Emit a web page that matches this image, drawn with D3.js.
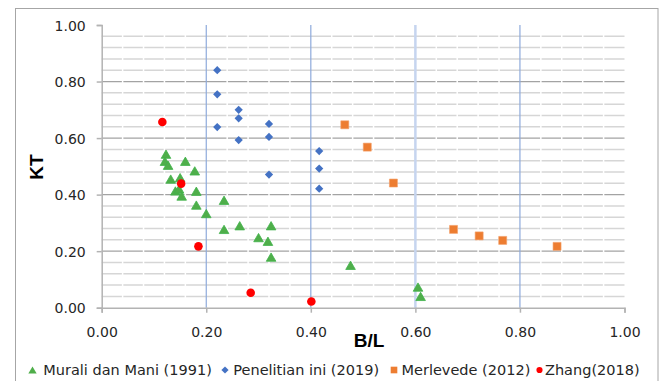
<!DOCTYPE html>
<html>
<head>
<meta charset="utf-8">
<script src="https://cdn.jsdelivr.net/npm/d3@7"></script>
<style>
  html, body { margin: 0; padding: 0; background: #fff; }
  svg { display: block; }
</style>
</head>
<body>
<svg id="chart" width="659" height="381"></svg>
<script>
// Series: [B/L, KT] pairs
const murali = [
  [0.123, 0.543], [0.121, 0.518], [0.127, 0.504], [0.160, 0.518],
  [0.178, 0.484], [0.132, 0.455], [0.150, 0.460], [0.141, 0.413],
  [0.148, 0.420], [0.153, 0.395], [0.181, 0.412], [0.181, 0.363],
  [0.200, 0.333], [0.234, 0.380], [0.234, 0.277], [0.264, 0.290],
  [0.324, 0.290], [0.300, 0.248], [0.318, 0.235], [0.324, 0.179],
  [0.476, 0.150], [0.605, 0.073], [0.610, 0.040]
];
const penelitian = [
  [0.221, 0.840], [0.221, 0.755], [0.221, 0.639],
  [0.262, 0.700], [0.262, 0.670], [0.262, 0.593],
  [0.320, 0.650], [0.320, 0.604], [0.320, 0.471],
  [0.416, 0.554], [0.416, 0.492], [0.416, 0.421]
];
const merlevede = [
  [0.465, 0.647], [0.508, 0.568], [0.558, 0.441],
  [0.673, 0.277], [0.722, 0.254], [0.767, 0.238], [0.871, 0.217]
];
const zhang = [
  [0.116, 0.657], [0.152, 0.439], [0.185, 0.217],
  [0.285, 0.053], [0.401, 0.022]
];
const seriesNames = ["Murali dan Mani (1991)", "Penelitian ini (2019)", "Merlevede (2012)", "Zhang(2018)"];
const xTicks = [0, 0.2, 0.4, 0.6, 0.8, 1.0];
const yTicks = [0, 0.2, 0.4, 0.6, 0.8, 1.0];
const xTitle = "B/L";
const yTitle = "KT";

const svg = d3.select("#chart");
const x = d3.scaleLinear().domain([0, 1]).range([101.7, 624.5]);
const y = d3.scaleLinear().domain([0, 1]).range([307.7, 25]);
const fmt = d3.format(".2f");

// outer frame
svg.append("rect")
  .attr("x", 15.5).attr("y", 8.5)
  .attr("width", 642.5).attr("height", 400)
  .attr("fill", "none").attr("stroke", "#a6a6a6").attr("stroke-width", 1);

const grid = svg.append("g");
// minor horizontal gridlines every 0.04
const yMinor = d3.range(1, 25).map(i => i * 0.04).filter(v => Math.abs(v / 0.2 - Math.round(v / 0.2)) > 1e-6);
grid.selectAll(".hminor").data(yMinor).join("line")
  .attr("x1", x(0)).attr("x2", x(1))
  .attr("y1", d => y(d)).attr("y2", d => y(d))
  .attr("stroke", "#d6d6d6").attr("stroke-width", 1.5);
// major horizontal gridlines
grid.selectAll(".hmajor").data(yTicks.filter(v => v > 0 && v < 1)).join("line")
  .attr("x1", x(0)).attr("x2", x(1))
  .attr("y1", d => y(d)).attr("y2", d => y(d))
  .attr("stroke", "#a3a3a3").attr("stroke-width", 1.2);
// minor vertical gridlines (white)
const xMinor = d3.range(1, 25).map(i => i * 0.04).filter(v => Math.abs(v / 0.2 - Math.round(v / 0.2)) > 1e-6);
grid.selectAll(".vminor").data(xMinor).join("line")
  .attr("x1", d => x(d)).attr("x2", d => x(d))
  .attr("y1", y(1)).attr("y2", y(0))
  .attr("stroke", "#ffffff").attr("stroke-width", 1.5);
// major vertical gridlines
grid.selectAll(".vmajor").data(xTicks.filter(v => v > 0 && v < 1)).join("line")
  .attr("x1", d => x(d)).attr("x2", d => x(d))
  .attr("y1", y(1)).attr("y2", y(0))
  .attr("stroke", d => Math.abs(d - 0.6) < 1e-6 ? "#c6d5ef" : "#8eaadb")
  .attr("stroke-width", d => Math.abs(d - 0.6) < 1e-6 ? 2.5 : 1.2);

// axes
const axisFont = "DejaVu Sans, sans-serif";
const gx = svg.append("g").attr("transform", `translate(0,${y(0)})`)
  .call(d3.axisBottom(x).tickValues(xTicks).tickFormat(fmt).tickSize(5).tickPadding(14));
const gy = svg.append("g").attr("transform", `translate(${x(0)},0)`)
  .call(d3.axisLeft(y).tickValues(yTicks).tickFormat(fmt).tickSize(5).tickPadding(11));
[gx, gy].forEach(g => {
  g.select(".domain").attr("stroke", "#b3b3b3").attr("stroke-width", 1.5);
  g.selectAll(".tick line").attr("stroke", "#b3b3b3").attr("stroke-width", 1.5);
  g.selectAll(".tick text").attr("fill", "#262626")
    .style("font-family", axisFont).style("font-size", "14px");
});
gx.selectAll(".tick text").attr("dy", "0.71em");
gy.selectAll(".tick text").attr("dy", "0.36em");

// axis titles
svg.append("text")
  .attr("x", 369).attr("y", 347)
  .attr("text-anchor", "middle")
  .style("font-family", "Liberation Sans, Arial, sans-serif")
  .style("font-weight", "bold").style("font-size", "19px")
  .attr("fill", "#000").text(xTitle);
svg.append("text")
  .attr("transform", "translate(43,167) rotate(-90)")
  .attr("text-anchor", "middle")
  .style("font-family", "Liberation Sans, Arial, sans-serif")
  .style("font-weight", "bold").style("font-size", "19px")
  .attr("fill", "#000").text(yTitle);

// marker shapes centred on their bounding box
const triangleType = {
  draw(ctx, size) {
    const a = Math.sqrt(size * 4 / Math.sqrt(3));
    const h = a * Math.sqrt(3) / 2;
    ctx.moveTo(0, -h / 2);
    ctx.lineTo(a / 2, h / 2);
    ctx.lineTo(-a / 2, h / 2);
    ctx.closePath();
  }
};
const diamondType = {
  draw(ctx, size) {
    const r = Math.sqrt(size / 2);
    ctx.moveTo(0, -r); ctx.lineTo(r, 0); ctx.lineTo(0, r); ctx.lineTo(-r, 0); ctx.closePath();
  }
};
const styles = [
  { data: murali, type: triangleType, size: 40, fill: "#4fae4a", stroke: "#3fb24a", sw: 0.8, leg: 30 },
  { data: penelitian, type: diamondType, size: 34, fill: "#4472c4", stroke: "none", sw: 0, leg: 26 },
  { data: merlevede, type: d3.symbolSquare, size: 64, fill: "#ed7d31", stroke: "#f4a06a", sw: 0.6, leg: 44 },
  { data: zhang, type: d3.symbolCircle, size: 58, fill: "#ff0000", stroke: "none", sw: 0, leg: 30 }
];

const pts = svg.append("g");
styles.forEach((s, i) => {
  pts.append("g").selectAll("path").data(s.data).join("path")
    .attr("transform", d => `translate(${x(d[0])},${y(d[1])})`)
    .attr("d", d3.symbol().type(s.type).size(s.size))
    .attr("fill", s.fill)
    .attr("stroke", s.stroke).attr("stroke-width", s.sw);
});

// legend
const legendMarkX = [32.5, 225, 394, 539.5];
const legendTextX = [43.3, 233.3, 401.5, 545];
const legendY = 370;
const lg = svg.append("g");
seriesNames.forEach((name, i) => {
  const s = styles[i];
  lg.append("path")
    .attr("transform", `translate(${legendMarkX[i]},${legendY})`)
    .attr("d", d3.symbol().type(s.type).size(s.leg))
    .attr("fill", s.fill).attr("stroke", "none");
  lg.append("text")
    .attr("x", legendTextX[i]).attr("y", legendY)
    .attr("dy", "0.36em")
    .style("font-family", axisFont).style("font-size", "14.5px")
    .attr("fill", "#262626").text(name);
});
</script>
</body>
</html>
